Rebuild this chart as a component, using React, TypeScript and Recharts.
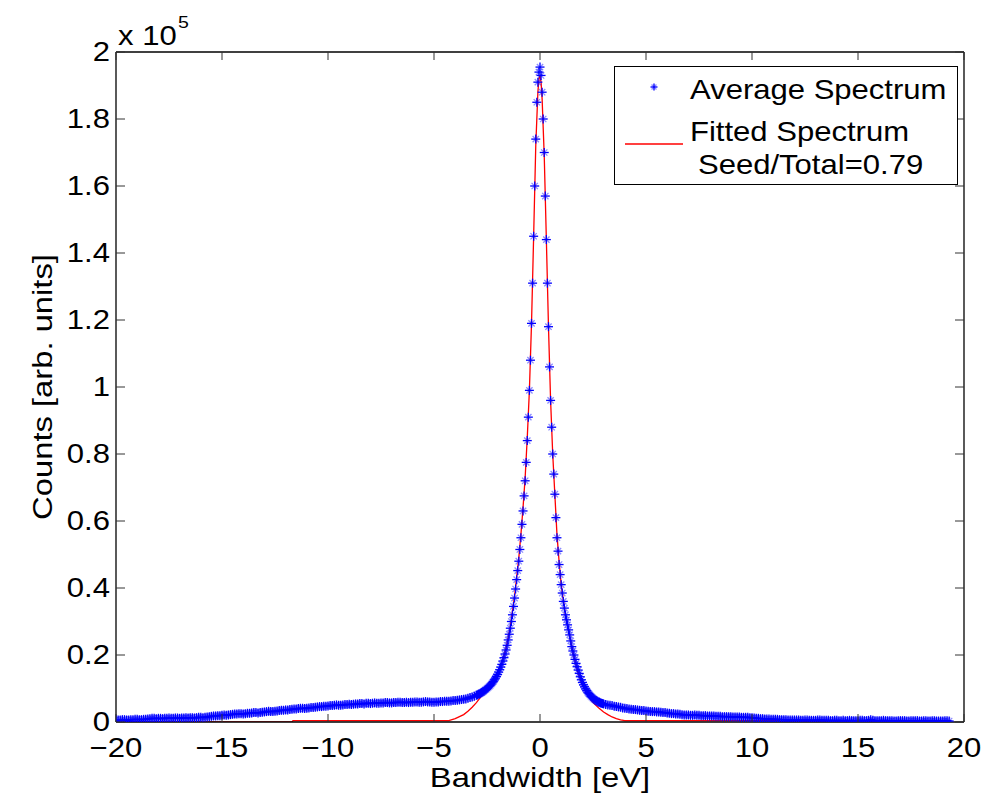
import React from "react";
import { ComposedChart, Scatter, Line, XAxis, YAxis, Legend } from "recharts";

// MATLAB-ish figure look: Helvetica-like font, a bit stretched sideways
const FONT = "'Liberation Sans', Arial, Helvetica, sans-serif";
const FS = 27;
const LABEL_FS = 28.5;
const SX = 1.15;

// average spectrum, [energy eV, counts x1e5]
const avgLeftTail = [
  [-20, .007], [-19.9, .006], [-19.8, .006], [-19.7, .007], [-19.6, .007], [-19.5, .006], [-19.4, .006],
  [-19.3, .007], [-19.2, .007], [-19.1, .008], [-19, .008], [-18.9, .007], [-18.8, .007], [-18.7, .008],
  [-18.6, .008], [-18.5, .009], [-18.4, .010], [-18.3, .011], [-18.2, .011], [-18.1, .010], [-18, .011],
  [-17.9, .011], [-17.8, .010], [-17.7, .011], [-17.6, .011], [-17.5, .012], [-17.4, .011], [-17.3, .011],
  [-17.2, .012], [-17.1, .012], [-17, .011], [-16.9, .012], [-16.8, .012], [-16.7, .013], [-16.6, .012],
  [-16.5, .013], [-16.4, .013], [-16.3, .012], [-16.2, .013], [-16.1, .014], [-16, .014], [-15.9, .013],
  [-15.8, .014], [-15.7, .015], [-15.6, .016], [-15.5, .017], [-15.4, .018], [-15.3, .018], [-15.2, .019],
  [-15.1, .019], [-15, .020], [-14.9, .021], [-14.8, .020], [-14.7, .021], [-14.6, .022], [-14.5, .023],
  [-14.4, .024], [-14.3, .024], [-14.2, .025], [-14.1, .025], [-14, .024], [-13.9, .025], [-13.8, .026],
  [-13.7, .026], [-13.6, .027], [-13.5, .028], [-13.4, .028], [-13.3, .027], [-13.2, .028], [-13.1, .029],
  [-13, .030], [-12.9, .031], [-12.8, .032], [-12.7, .031], [-12.6, .031], [-12.5, .032], [-12.4, .033],
  [-12.3, .034], [-12.2, .035], [-12.1, .035], [-12, .036], [-11.9, .036], [-11.8, .037], [-11.7, .038],
  [-11.6, .039], [-11.5, .039], [-11.4, .040], [-11.3, .041], [-11.2, .041], [-11.1, .040], [-11, .041],
  [-10.9, .042], [-10.8, .043], [-10.7, .043], [-10.6, .044], [-10.5, .045], [-10.4, .046], [-10.3, .046],
  [-10.2, .047], [-10.1, .047], [-10, .048], [-9.9, .049], [-9.8, .049], [-9.7, .050], [-9.6, .051],
  [-9.5, .050], [-9.4, .050], [-9.3, .051], [-9.2, .052], [-9.1, .052], [-9, .053], [-8.9, .052],
  [-8.8, .053], [-8.7, .054], [-8.6, .054], [-8.5, .055], [-8.4, .055], [-8.3, .054], [-8.2, .056],
  [-8.1, .056], [-8, .055], [-7.9, .056], [-7.8, .057], [-7.7, .056], [-7.6, .056], [-7.5, .057],
  [-7.4, .057], [-7.3, .058], [-7.2, .058], [-7.1, .057], [-7, .057], [-6.9, .058], [-6.8, .058],
  [-6.7, .059], [-6.6, .059], [-6.5, .058], [-6.4, .058], [-6.3, .059], [-6.2, .058], [-6.1, .059],
  [-6, .059], [-5.9, .060], [-5.8, .060], [-5.7, .059], [-5.6, .059], [-5.5, .060], [-5.4, .061],
  [-5.3, .060], [-5.2, .060], [-5.1, .059], [-5, .059], [-4.9, .060], [-4.8, .060], [-4.7, .061],
  [-4.6, .061], [-4.5, .062], [-4.4, .062], [-4.3, .062], [-4.2, .063], [-4.1, .064], [-4, .064],
  [-3.9, .065], [-3.8, .066], [-3.7, .067], [-3.6, .068], [-3.5, .069], [-3.4, .071], [-3.3, .073],
  [-3.2, .075], [-3.1, .077],
];

const avgPeak = [
  [-3, .080], [-2.95, .081], [-2.9, .083], [-2.85, .084], [-2.8, .086], [-2.75, .088], [-2.7, .090],
  [-2.65, .092], [-2.6, .095], [-2.55, .097], [-2.5, .100], [-2.45, .103], [-2.4, .106], [-2.35, .109],
  [-2.3, .113], [-2.25, .117], [-2.2, .121], [-2.15, .126], [-2.1, .131], [-2.05, .136], [-2, .142],
  [-1.95, .149], [-1.9, .156], [-1.85, .164], [-1.8, .172], [-1.75, .182], [-1.7, .192], [-1.65, .203],
  [-1.6, .215], [-1.55, .229], [-1.5, .245], [-1.45, .262], [-1.4, .28], [-1.35, .30], [-1.3, .32],
  [-1.25, .345], [-1.2, .37], [-1.15, .397], [-1.1, .425], [-1.05, .452], [-1, .48],
  [-0.95, .515], [-0.9, .55], [-0.85, .59], [-0.8, .63], [-0.75, .675], [-0.7, .72], [-0.65, .775],
  [-0.6, .84], [-0.55, .91], [-0.5, .99], [-0.45, 1.08], [-0.4, 1.19], [-0.35, 1.31], [-0.3, 1.45],
  [-0.25, 1.60], [-0.2, 1.74], [-0.15, 1.85], [-0.1, 1.91], [-0.05, 1.94], [0, 1.955], [0.05, 1.93],
  [0.1, 1.88], [0.15, 1.80], [0.2, 1.70], [0.25, 1.57], [0.3, 1.44], [0.35, 1.31], [0.4, 1.18],
  [0.45, 1.06], [0.5, .96], [0.55, .88], [0.6, .80], [0.65, .74], [0.7, .68], [0.75, .61], [0.8, .55],
  [0.85, .51], [0.9, .47], [0.95, .44],
  [1, .41], [1.05, .385], [1.1, .36], [1.15, .34], [1.2, .32], [1.25, .305], [1.3, .29], [1.35, .275],
  [1.4, .26], [1.45, .242], [1.5, .225], [1.55, .212], [1.6, .20], [1.65, .187], [1.7, .175],
  [1.75, .165], [1.8, .155], [1.85, .145], [1.9, .135], [1.95, .126], [2, .118], [2.05, .111],
  [2.1, .105], [2.15, .099], [2.2, .094], [2.25, .089], [2.3, .085], [2.35, .081], [2.4, .077],
  [2.45, .074], [2.5, .071], [2.55, .068], [2.6, .066], [2.65, .064], [2.7, .062], [2.75, .060],
  [2.8, .059], [2.85, .057], [2.9, .056], [2.95, .055], [3, .054],
];

const avgRightTail = [
  [3.1, .052], [3.2, .051], [3.3, .050], [3.4, .049], [3.5, .047], [3.6, .046], [3.7, .045], [3.8, .044],
  [3.9, .042], [4, .041], [4.1, .040], [4.2, .039], [4.3, .038], [4.4, .037], [4.5, .037], [4.6, .036],
  [4.7, .035], [4.8, .034], [4.9, .034], [5, .033], [5.1, .032], [5.2, .031], [5.3, .031], [5.4, .031],
  [5.5, .030], [5.6, .030], [5.7, .029], [5.8, .028], [5.9, .028], [6, .027], [6.1, .026], [6.2, .025],
  [6.3, .025], [6.4, .024], [6.5, .024], [6.6, .023], [6.7, .022], [6.8, .021], [6.9, .021], [7, .021],
  [7.1, .020], [7.2, .020], [7.3, .021], [7.4, .020], [7.5, .020], [7.6, .019], [7.7, .019], [7.8, .019],
  [7.9, .018], [8, .018], [8.1, .018], [8.2, .018], [8.3, .017], [8.4, .017], [8.5, .017], [8.6, .016],
  [8.7, .016], [8.8, .016], [8.9, .016], [9, .016], [9.1, .015], [9.2, .015], [9.3, .015], [9.4, .015],
  [9.5, .014], [9.6, .014], [9.7, .014], [9.8, .014], [9.9, .013], [10, .013], [10.1, .012], [10.2, .011],
  [10.3, .011], [10.4, .010], [10.5, .010], [10.6, .009], [10.7, .009], [10.8, .009], [10.9, .008],
  [11, .008], [11.1, .008], [11.2, .008], [11.3, .007], [11.4, .007], [11.5, .007], [11.6, .007],
  [11.7, .006], [11.8, .006], [11.9, .006], [12, .006], [12.1, .006], [12.2, .006], [12.3, .005],
  [12.4, .005], [12.5, .006], [12.6, .006], [12.7, .005], [12.8, .005], [12.9, .005], [13, .005],
  [13.1, .006], [13.2, .006], [13.3, .005], [13.4, .005], [13.5, .005], [13.6, .005], [13.7, .004],
  [13.8, .004], [13.9, .005], [14, .005], [14.1, .004], [14.2, .004], [14.3, .005], [14.4, .004],
  [14.5, .004], [14.6, .005], [14.7, .004], [14.8, .004], [14.9, .004], [15, .004], [15.1, .005],
  [15.2, .005], [15.3, .004], [15.4, .004], [15.5, .005], [15.6, .007], [15.7, .005], [15.8, .004],
  [15.9, .004], [16, .004], [16.1, .004], [16.2, .005], [16.3, .004], [16.4, .004], [16.5, .004],
  [16.6, .004], [16.7, .003], [16.8, .003], [16.9, .004], [17, .004], [17.1, .004], [17.2, .004],
  [17.3, .003], [17.4, .003], [17.5, .004], [17.6, .004], [17.7, .004], [17.8, .004], [17.9, .003],
  [18, .003], [18.1, .004], [18.2, .004], [18.3, .003], [18.4, .003], [18.5, .004], [18.6, .004],
  [18.7, .003], [18.8, .003], [18.9, .003], [19, .003], [19.1, .004], [19.2, .004], [19.3, .003],
];

// fitted spectrum (red)
const fitCurve = [
  [-20, 0], [-11.7, 0], [-11.65, .004], [-4.3, .004], [-4, .010], [-3.8, .016], [-3.6, .022],
  [-3.4, .032], [-3.2, .044], [-3, .058], [-2.8, .074], [-2.6, .090], [-2.4, .106], [-2.2, .125],
  [-2, .147], [-1.8, .176], [-1.6, .22], [-1.4, .285], [-1.2, .375], [-1, .49], [-0.9, .56],
  [-0.8, .64], [-0.7, .73], [-0.6, .85], [-0.5, .99], [-0.4, 1.19], [-0.3, 1.45], [-0.2, 1.72],
  [-0.1, 1.88], [-0.05, 1.92], [0, 1.93], [0.05, 1.91], [0.1, 1.86], [0.2, 1.69], [0.3, 1.44],
  [0.4, 1.18], [0.5, .96], [0.6, .80], [0.7, .68], [0.8, .56], [0.9, .48], [1, .41], [1.2, .32],
  [1.4, .255], [1.6, .195], [1.8, .145], [2, .11], [2.2, .085], [2.4, .066], [2.6, .052], [2.8, .040],
  [3, .030], [3.2, .022], [3.4, .015], [3.6, .010], [3.8, .006], [4, .004], [11.3, .004], [11.35, 0],
  [19.3, 0],
];

const xTicks = [-20, -15, -10, -5, 0, 5, 10, 15, 20];
const yTicks = [0, 0.2, 0.4, 0.6, 0.8, 1, 1.2, 1.4, 1.6, 1.8, 2];

const avgData = [...avgLeftTail, ...avgPeak, ...avgRightTail].map(([x, y]) => ({ x, y }));
const fitData = fitCurve.map(([x, y]) => ({ x, y }));

const fmtX = (v: number) => (v < 0 ? "\u2212" + Math.abs(v) : String(v));

function SText({ x, y, anchor, size = FS, children }: any) {
  return (
    <text
      transform={`translate(${x},${y}) scale(${SX},1)`}
      textAnchor={anchor}
      fontFamily={FONT}
      fontSize={size}
      fill="#000"
    >
      {children}
    </text>
  );
}

function Star({ cx, cy, r = 4.5 }: any) {
  if (cx == null || cy == null) return null;
  const d = r * 0.7;
  return (
    <g stroke="#0000ff" strokeWidth={1.3}>
      <line x1={cx - r} y1={cy} x2={cx + r} y2={cy} />
      <line x1={cx} y1={cy - r} x2={cx} y2={cy + r} />
      <g strokeOpacity={0.45}>
        <line x1={cx - d} y1={cy - d} x2={cx + d} y2={cy + d} />
        <line x1={cx - d} y1={cy + d} x2={cx + d} y2={cy - d} />
      </g>
    </g>
  );
}

const TICK = "#333";

function BottomTick({ x, y, payload }: any) {
  return (
    <g>
      <line x1={x} y1={y} x2={x} y2={y - 8} stroke={TICK} />
      <SText x={x} y={y + 35} anchor="middle">{fmtX(payload.value)}</SText>
    </g>
  );
}

function TopTick({ x, y }: any) {
  return <line x1={x} y1={y} x2={x} y2={y + 8} stroke={TICK} />;
}

function LeftTick({ x, y, payload }: any) {
  return (
    <g>
      <line x1={x} y1={y} x2={x + 9} y2={y} stroke={TICK} />
      <SText x={x - 6} y={y + 9} anchor="end">{String(payload.value)}</SText>
    </g>
  );
}

function RightTick({ x, y }: any) {
  return <line x1={x} y1={y} x2={x - 9} y2={y} stroke={TICK} />;
}

function YLabels({ viewBox }: any) {
  const { x, y, width, height } = viewBox;
  const cy = y + height / 2;
  return (
    <g>
      <text
        transform={`translate(${x - 4},${cy}) rotate(-90) scale(${SX},1)`}
        textAnchor="middle"
        fontFamily={FONT}
        fontSize={LABEL_FS}
        fill="#000"
      >
        Counts [arb. units]
      </text>
      <SText x={x + width + 2} y={y - 7} anchor="start">x 10</SText>
      <SText x={x + width + 62} y={y - 24} anchor="start" size={17}>5</SText>
    </g>
  );
}

function XLabel({ viewBox }: any) {
  const { x, y, width } = viewBox;
  return <SText x={x + width / 2} y={y + 65} anchor="middle" size={LABEL_FS}>Bandwidth [eV]</SText>;
}

function LegendBox() {
  return (
    <div style={{ width: 344, height: 119, border: "1.5px solid #000", background: "#fff", boxSizing: "border-box" }}>
      <svg width={341} height={116} style={{ display: "block" }}>
        <Star cx={39} cy={20} r={3.5} />
        <SText x={75} y={32} anchor="start">Average Spectrum</SText>
        <line x1={10} y1={77} x2={68} y2={77} stroke="#ff0000" strokeWidth={1.3} />
        <SText x={75} y={74} anchor="start">Fitted Spectrum</SText>
        <SText x={83} y={107} anchor="start">Seed/Total=0.79</SText>
      </svg>
    </div>
  );
}

const axisLine = { stroke: "#000", strokeWidth: 1.3 };

export default function App() {
  return (
    <div style={{ position: "absolute", left: 0, top: 0, background: "#fff" }}>
      <ComposedChart width={985} height={794} margin={{ top: 51, right: 20, bottom: 32, left: 56 }}>
        <XAxis
          xAxisId="b" type="number" dataKey="x" domain={[-20, 20]} ticks={xTicks} interval={0}
          allowDataOverflow height={40} tickSize={0} tickMargin={0} tickLine={false}
          axisLine={axisLine} tick={<BottomTick />} label={<XLabel />}
        />
        <XAxis
          xAxisId="t" orientation="top" type="number" dataKey="x" domain={[-20, 20]} ticks={xTicks}
          interval={0} allowDataOverflow height={1} tickSize={0} tickMargin={0} tickLine={false}
          axisLine={axisLine} tick={<TopTick />}
        />
        <YAxis
          yAxisId="l" type="number" dataKey="y" domain={[0, 2]} ticks={yTicks} interval={0}
          allowDataOverflow width={60} tickSize={0} tickMargin={0} tickLine={false}
          axisLine={axisLine} tick={<LeftTick />} label={<YLabels />}
        />
        <YAxis
          yAxisId="r" orientation="right" type="number" dataKey="y" domain={[0, 2]} ticks={yTicks}
          interval={0} allowDataOverflow width={1} tickSize={0} tickMargin={0} tickLine={false}
          axisLine={axisLine} tick={<RightTick />}
        />
        <Scatter
          xAxisId="b" yAxisId="l" data={avgData} dataKey="y" name="Average Spectrum"
          shape={(p: any) => <Star cx={p.cx} cy={p.cy} />} isAnimationActive={false}
        />
        {/* same domains as the bottom/left axes, bound here so the box's top and right sides render */}
        <Line
          xAxisId="t" yAxisId="r" data={fitData} dataKey="y" type="linear" name="Fitted Spectrum"
          stroke="#ff0000" strokeWidth={1.3} dot={false} activeDot={false} isAnimationActive={false}
        />
        <Legend
          layout="vertical" align="center" verticalAlign="middle"
          wrapperStyle={{ left: 614, top: 66, width: 344, height: 119 }}
          content={() => <LegendBox />}
        />
      </ComposedChart>
    </div>
  );
}
